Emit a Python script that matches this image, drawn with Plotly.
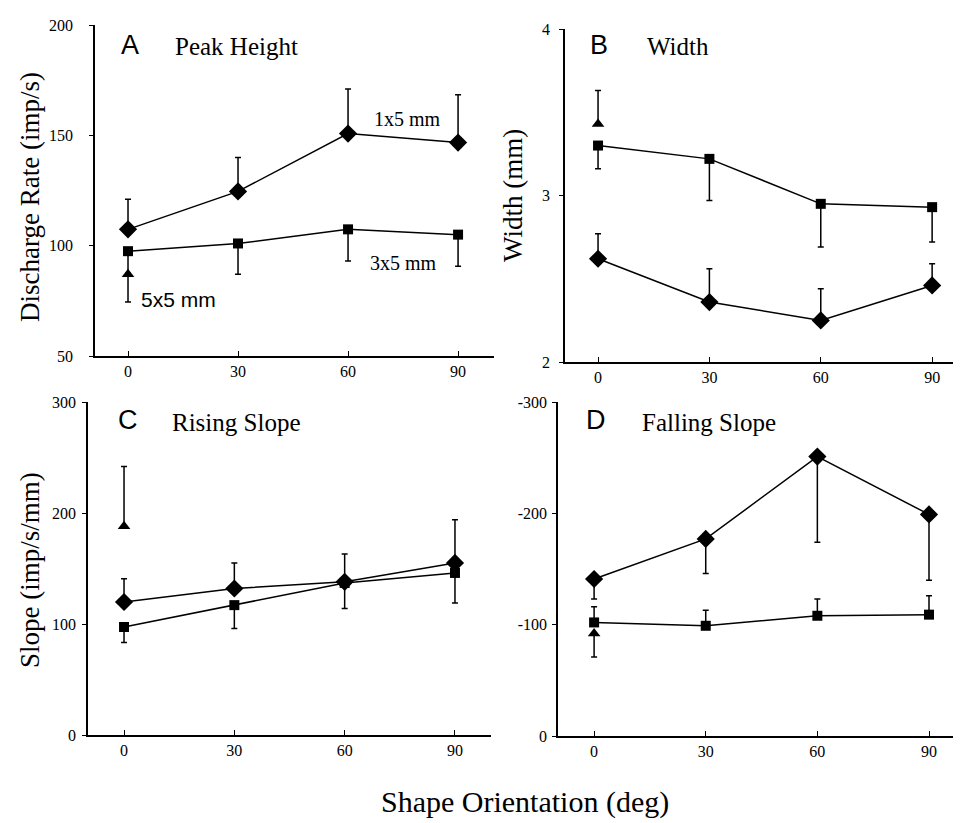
import plotly.graph_objects as go

W, H = 961, 823
OFF = 8  # default page body margin

orient = [0, 30, 60, 90]

# Panel A: Peak Height (imp/s)
a_1x5 = [107.4, 124.6, 150.8, 146.7]
a_1x5_err_up = [13.6, 15.4, 20.2, 21.7]
a_3x5 = [97.5, 101.0, 107.4, 105.0]
a_3x5_err_down = [10.0, 14.0, 14.4, 14.3]
a_5x5 = [87.0]
a_5x5_err_down = [12.5]

# Panel B: Width (mm)
b_3x5 = [3.30, 3.22, 2.95, 2.93]
b_3x5_err_down = [0.14, 0.25, 0.26, 0.21]
b_1x5 = [2.62, 2.36, 2.25, 2.46]
b_1x5_err_up = [0.15, 0.20, 0.19, 0.13]
b_5x5 = [3.43]
b_5x5_err_up = [0.20]

# Panel C: Rising Slope (imp/s/mm)
c_1x5 = [119.8, 132.0, 138.0, 155.0]
c_1x5_err_up = [21.0, 23.0, 25.0, 39.0]
c_3x5 = [97.3, 117.0, 137.0, 146.0]
c_3x5_err_down = [14.0, 21.0, 23.0, 27.0]
c_5x5 = [188.0]
c_5x5_err_up = [54.0]

# Panel D: Falling Slope (imp/s/mm)
d_1x5 = [-141.0, -177.0, -251.0, -199.0]
d_1x5_err = [18.0, 31.0, 77.0, 59.0]
d_3x5 = [-102.0, -99.0, -108.0, -109.0]
d_3x5_err = [14.0, 14.0, 15.0, 17.0]
d_5x5 = [-92.0]
d_5x5_err = [21.0]

yt_a = [50, 100, 150, 200]
yt_b = [2, 3, 4]
yt_c = [0, 100, 200, 300]
yt_d = [0, -100, -200, -300]
yt_d_text = ["0", "-100", "-200", "-300"]

SERIF = "Liberation Serif"
SANS = "Liberation Sans"

fig = go.Figure()

def px_x(x):
    return (x - OFF) / W

def px_y(y):
    return 1 - (y - OFF) / H

def err(arr, up):
    if up:
        return dict(type="data", symmetric=False, array=arr, arrayminus=[0] * len(arr),
                    color="black", thickness=1.5, width=3)
    return dict(type="data", symmetric=False, array=[0] * len(arr), arrayminus=arr,
                color="black", thickness=1.5, width=3)

def add_series(ax, x, y, e, up, symbol, size, line=True):
    fig.add_trace(go.Scatter(
        x=x, y=y, xaxis="x" + ax, yaxis="y" + ax,
        mode="lines+markers" if line else "markers",
        line=dict(color="black", width=1.5),
        marker=dict(symbol=symbol, size=size, color="black"),
        error_y=err(e, up), showlegend=False, cliponaxis=False))

# A
add_series("", orient, a_1x5, a_1x5_err_up, True, "diamond", 14)
add_series("", orient, a_3x5, a_3x5_err_down, False, "square", 10)
add_series("", [0], a_5x5, a_5x5_err_down, False, "triangle-up", 11, False)
# B
add_series("2", orient, b_3x5, b_3x5_err_down, False, "square", 10)
add_series("2", orient, b_1x5, b_1x5_err_up, True, "diamond", 14)
add_series("2", [0], b_5x5, b_5x5_err_up, True, "triangle-up", 11, False)
# C
add_series("3", orient, c_1x5, c_1x5_err_up, True, "diamond", 14)
add_series("3", orient, c_3x5, c_3x5_err_down, False, "square", 10)
add_series("3", [0], c_5x5, c_5x5_err_up, True, "triangle-up", 11, False)
# D
add_series("4", orient, d_1x5, d_1x5_err, True, "diamond", 14)
add_series("4", orient, d_3x5, d_3x5_err, False, "square", 10)
add_series("4", [0], d_5x5, d_5x5_err, True, "triangle-up", 11, False)

tickfont = dict(family=SERIF, size=16, color="black")

def xaxis(dom, rng, anchor):
    return dict(domain=[px_x(dom[0]), px_x(dom[1])], range=rng, anchor=anchor,
                automargin=False,
                showline=True, linecolor="black", linewidth=1.5, showgrid=False,
                zeroline=False, ticks="inside", ticklen=5, tickcolor="black",
                tickvals=orient, ticktext=[str(v) for v in orient], tickfont=tickfont)

def yaxis(dom, rng, anchor, tv, tt, standoff):
    return dict(domain=[px_y(dom[1]), px_y(dom[0])], range=rng, anchor=anchor,
                automargin=False,
                showline=True, linecolor="black", linewidth=1.5, showgrid=False,
                zeroline=False, ticks="outside", ticklen=4, tickcolor="black",
                tickvals=tv, ticktext=tt, tickfont=tickfont, ticklabelstandoff=standoff)

fig.update_layout(
    width=W, height=H, margin=dict(l=0, r=0, t=0, b=0, pad=0),
    paper_bgcolor="white", plot_bgcolor="white",
    xaxis=xaxis((95, 494), [-9.0, 99.8], "y"),
    yaxis=yaxis((25, 356), [50, 200], "x", yt_a, [str(v) for v in yt_a], 13),
    xaxis2=xaxis((565, 957), [-8.9, 96.7], "y2"),
    yaxis2=yaxis((29, 362), [2, 4], "x2", yt_b, [str(v) for v in yt_b], 6),
    xaxis3=xaxis((88, 491), [-9.8, 99.8], "y3"),
    yaxis3=yaxis((402, 735), [0, 300], "x3", yt_c, [str(v) for v in yt_c], 3),
    xaxis4=xaxis((558, 961), [-9.7, 98.6], "y4"),
    yaxis4=yaxis((402, 736), [0, -300], "x4", yt_d, yt_d_text, 2),
)

def note(text, x, y, size, family=SERIF, xanchor="center", angle=0):
    fig.add_annotation(text=text, x=px_x(x), y=px_y(y), xref="paper", yref="paper",
                       showarrow=False, xanchor=xanchor, yanchor="middle", textangle=angle,
                       font=dict(family=family, size=size, color="black"))

# panel letters and titles
note("A", 130, 45, 27, SANS)
note("Peak Height", 173, 47, 25, xanchor="left")
note("B", 599, 45, 27, SANS)
note("Width", 645, 47, 25, xanchor="left")
note("C", 128, 420, 27, SANS)
note("Rising Slope", 170, 422, 25, xanchor="left")
note("D", 596, 420, 27, SANS)
note("Falling Slope", 640, 422, 25, xanchor="left")

# series labels
note("1x5 mm", 407, 119, 20)
note("3x5 mm", 403, 263, 20)
note("5x5 mm", 178, 300, 21, SANS)

# axis titles
note("Discharge Rate (imp/s)", 30, 197, 27, angle=-90)
note("Width (mm)", 513, 195, 27, angle=-90)
note("Slope (imp/s/mm)", 30, 570, 27, angle=-90)
note("Shape Orientation (deg)", 525, 802, 30)

fig.write_html("out.html")
